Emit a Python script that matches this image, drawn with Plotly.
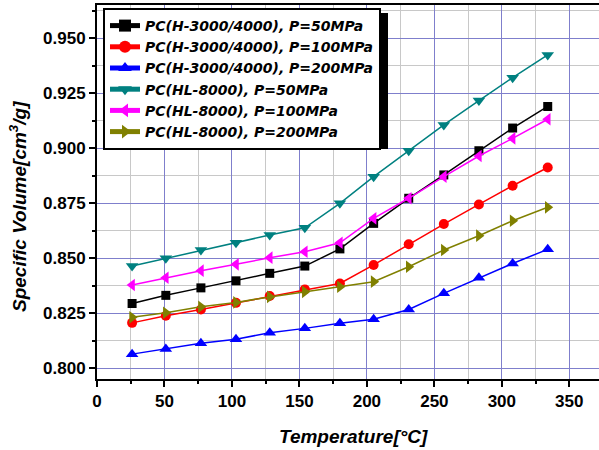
import plotly.graph_objects as go

temps = [26, 51, 77, 103, 128, 154, 180, 205, 231, 257, 283, 308, 334]

h3000_50 = [0.8295, 0.8332, 0.8366, 0.8398, 0.8432, 0.8465, 0.8543, 0.8659, 0.8773, 0.8879, 0.8989, 0.9092, 0.9190]
h3000_100 = [0.8207, 0.8239, 0.8268, 0.8298, 0.8329, 0.8359, 0.8386, 0.8470, 0.8564, 0.8656, 0.8745, 0.8830, 0.8913]
h3000_200 = [0.8065, 0.8088, 0.8114, 0.8133, 0.8162, 0.8182, 0.8205, 0.8223, 0.8268, 0.8341, 0.8412, 0.8477, 0.8541]
hl8000_50 = [0.8465, 0.8500, 0.8538, 0.8571, 0.8606, 0.8639, 0.8750, 0.8871, 0.8989, 0.9106, 0.9217, 0.9321, 0.9424]
hl8000_100 = [0.8379, 0.8412, 0.8444, 0.8473, 0.8503, 0.8530, 0.8571, 0.8682, 0.8773, 0.8871, 0.8965, 0.9045, 0.9132]
hl8000_200 = [0.8232, 0.8253, 0.8280, 0.8300, 0.8325, 0.8348, 0.8371, 0.8394, 0.8462, 0.8538, 0.8603, 0.8671, 0.8732]

series_names = [
    "PC(H-3000/4000), P=50MPa",
    "PC(H-3000/4000), P=100MPa",
    "PC(H-3000/4000), P=200MPa",
    "PC(HL-8000), P=50MPa",
    "PC(HL-8000), P=100MPa",
    "PC(HL-8000), P=200MPa",
]
series_values = [h3000_50, h3000_100, h3000_200, hl8000_50, hl8000_100, hl8000_200]
colors = ["#000000", "#ff0000", "#0000ff", "#008080", "#ff00ff", "#808000"]
symbols = ["square", "circle", "triangle-up", "triangle-down", "triangle-left", "triangle-right"]
sizes = [9, 10, 11, 11, 11, 11]

FONT = "Arial, Liberation Sans, sans-serif"
LEGFONT = "DejaVu Sans, sans-serif"

fig = go.Figure()
for name, vals, c, s, sz in zip(series_names, series_values, colors, symbols, sizes):
    fig.add_trace(go.Scatter(
        x=temps, y=vals, name=name, mode="lines+markers",
        line=dict(color=c, width=1.5),
        marker=dict(color=c, symbol=s, size=sz, line=dict(width=0)),
    ))

W, H = 599, 450
L, R, T, B = 97, 0, 5, 71
pw, ph = W - L - R, H - T - B

def px_x(p):
    return (p - L) / pw

def px_y(p):
    return (H - B - p) / ph

fig.update_layout(
    template="none",
    width=W, height=H,
    margin=dict(l=L, r=R, t=T, b=B, pad=0, autoexpand=False),
    paper_bgcolor="white", plot_bgcolor="white",
    font=dict(family=FONT, size=17, color="black"),
    showlegend=True,
    legend=dict(
        x=px_x(103), y=px_y(8), xanchor="left", yanchor="top",
        bgcolor="white", bordercolor="black", borderwidth=2,
        font=dict(family=LEGFONT, size=14, color="black", weight="bold", style="italic"),
        tracegroupgap=0, itemsizing="constant",
    ),
    xaxis=dict(
        automargin=False,
        range=[0, 372], dtick=50, tick0=0,
        showgrid=True, gridcolor="#7f7fcc", gridwidth=1,
        minor=dict(dtick=25, tick0=0, showgrid=True, gridcolor="#c8c8c8", gridwidth=1,
                   ticks="outside", ticklen=3, tickwidth=2, tickcolor="black"),
        showline=True, linecolor="black", linewidth=2, mirror=True,
        ticks="outside", ticklen=6, tickwidth=2, tickcolor="black",
        tickfont=dict(family=FONT, size=17, color="black", weight="bold"),
        zeroline=False,
    ),
    yaxis=dict(
        automargin=False,
        range=[0.7952, 0.9651], dtick=0.025, tick0=0.8, tickformat=".3f",
        showgrid=True, gridcolor="#7f7fcc", gridwidth=1,
        minor=dict(dtick=0.0125, tick0=0.8, showgrid=True, gridcolor="#c8c8c8", gridwidth=1,
                   ticks="outside", ticklen=3, tickwidth=2, tickcolor="black"),
        showline=True, linecolor="black", linewidth=2, mirror=True,
        ticks="outside", ticklen=6, tickwidth=2, tickcolor="black",
        tickfont=dict(family=FONT, size=17, color="black", weight="bold"),
        zeroline=False,
    ),
    annotations=[
        dict(text="Specific Volume[cm<sup>3</sup>/g]", xref="paper", yref="paper",
             x=px_x(18), y=px_y(207), xanchor="center", yanchor="middle",
             textangle=-90, showarrow=False,
             font=dict(family=FONT, size=19, color="black", weight="bold", style="italic")),
        dict(text="Temperature[°C]", xref="paper", yref="paper",
             x=px_x(353), y=px_y(436), xanchor="center", yanchor="middle",
             showarrow=False,
             font=dict(family=FONT, size=19, color="black", weight="bold", style="italic")),
    ],
    shapes=[
        dict(type="rect", xref="paper", yref="paper",
             x0=px_x(108), x1=px_x(388), y0=px_y(149), y1=px_y(13),
             fillcolor="black", line=dict(width=0), layer="above"),
    ],
)

fig.write_html("out.html", config={"displayModeBar": False},
               post_script="document.body.style.margin='0';")
